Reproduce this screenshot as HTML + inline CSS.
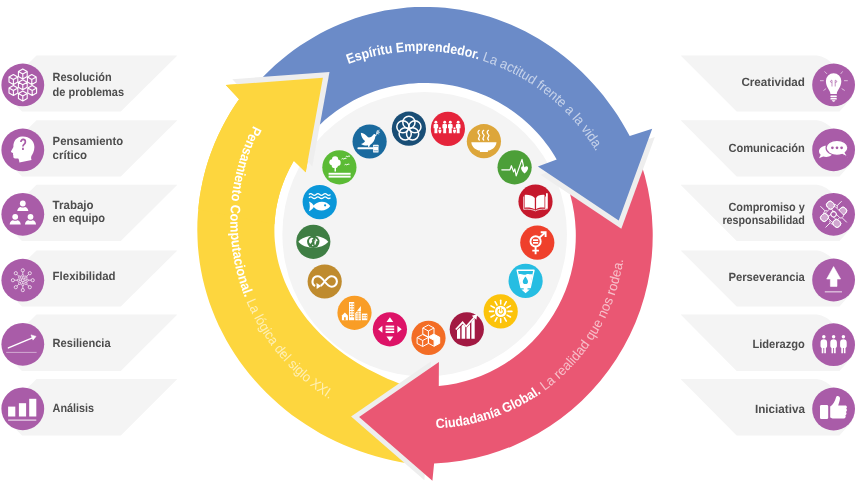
<!DOCTYPE html>
<html lang="es"><head><meta charset="utf-8"><title>Competencias</title>
<style>
html,body{margin:0;padding:0;background:#fff;}
body{width:862px;height:488px;overflow:hidden;font-family:"Liberation Sans",sans-serif;}
svg{display:block;font-family:"Liberation Sans",sans-serif;will-change:transform;}
text{text-rendering:geometricPrecision;}
.lb{font-size:11.9px;font-weight:700;fill:#4d4d4d;}
</style></head><body>
<svg width="862" height="488" viewBox="0 0 862 488">
<circle cx="424.65" cy="234.2" r="142.3" fill="#f4f4f4"/>
<path d="M426.8,465.6 L418.2,464.7 L409.6,463.6 L401.1,462.2 L392.6,460.5 L384.2,458.6 L375.8,456.3 L367.6,453.8 L359.4,451.1 L351.4,448.0 L343.4,444.8 L335.6,441.2 L328.0,437.4 L320.4,433.4 L313.1,429.1 L305.9,424.6 L298.8,419.8 L291.9,414.9 L285.3,409.7 L278.8,404.2 L272.5,398.6 L266.4,392.8 L260.6,386.8 L254.9,380.6 L249.5,374.2 L244.4,367.7 L239.4,361.0 L234.7,354.1 L230.3,347.1 L226.2,339.9 L222.3,332.6 L218.6,325.2 L215.3,317.7 L212.2,310.1 L209.4,302.4 L206.9,294.5 L204.7,286.7 L202.7,278.7 L201.1,270.7 L199.7,262.6 L198.7,254.5 L197.9,246.4 L197.5,238.3 L197.3,230.1 L197.4,222.0 L197.9,213.8 L198.6,205.7 L199.6,197.6 L201.0,189.5 L202.6,181.5 L204.5,173.5 L206.7,165.6 L209.2,157.8 L212.0,150.1 L215.0,142.5 L218.4,134.9 L222.0,127.5 L225.9,120.2 L230.0,113.1 L234.4,106.0 L239.1,99.2 L225.8,85.0 L322.9,77.8 L305.7,172.2 L293.8,160.7 L291.5,165.0 L289.2,169.2 L287.2,173.5 L285.2,177.8 L283.5,182.2 L281.9,186.6 L280.4,191.1 L279.1,195.5 L278.0,200.0 L277.0,204.5 L276.1,209.1 L275.5,213.6 L275.0,218.2 L274.6,222.7 L274.4,227.3 L274.4,231.9 L274.5,236.5 L274.8,241.0 L275.3,245.6 L275.9,250.2 L276.7,254.7 L277.6,259.2 L278.7,263.7 L280.0,268.2 L281.4,272.6 L283.0,277.1 L284.7,281.4 L286.6,285.8 L288.6,290.1 L290.8,294.4 L293.1,298.6 L295.6,302.7 L298.2,306.9 L301.0,310.9 L303.9,314.9 L306.9,318.9 L310.1,322.8 L313.4,326.6 L316.9,330.3 L320.5,334.0 L324.2,337.6 L328.0,341.1 L332.0,344.6 L336.1,347.9 L340.3,351.2 L344.6,354.4 L349.0,357.5 L353.5,360.5 L358.2,363.4 L362.9,366.3 L367.7,369.0 L372.7,371.6 L377.7,374.1 L382.8,376.6 L388.0,378.9 L393.3,381.1 L398.6,383.2 L404.0,385.2 L409.5,387.1 L415.1,388.8 Z" fill="#fdd63e"/>
<polygon points="424.4,480.2 351.1,416.6 430.9,361.4" fill="#eeeeee"/>
<path d="M636.1,150.0 A228.2,228.2 0 0 1 434.1,463.5 L432.4,480.7 L359.1,417.0 L438.9,361.9 L438.8,386.1 A151.3,151.3 0 0 0 564.8,178.8 Z" fill="#ea5773"/>
<polygon points="654.8,136.9 621.3,228.7 540.5,174.8" fill="#eeeeee"/>
<path d="M243.2,99.7 L248.1,93.4 L253.3,87.3 L258.6,81.4 L264.1,75.7 L269.7,70.2 L275.5,64.8 L281.5,59.7 L287.6,54.8 L293.8,50.1 L300.2,45.6 L306.7,41.4 L313.3,37.4 L320.1,33.6 L326.9,30.1 L333.9,26.8 L340.9,23.7 L348.0,20.9 L355.2,18.3 L362.5,16.0 L369.9,14.0 L377.2,12.2 L384.7,10.6 L392.2,9.4 L399.7,8.4 L407.2,7.6 L414.8,7.1 L422.4,6.9 L429.9,7.0 L437.5,7.3 L445.1,7.8 L452.6,8.7 L460.1,9.8 L467.6,11.2 L475.0,12.8 L482.4,14.7 L489.7,16.8 L496.9,19.2 L504.1,21.9 L511.2,24.8 L518.2,27.9 L525.1,31.3 L531.9,34.9 L538.6,38.8 L545.2,42.9 L551.7,47.2 L558.0,51.8 L564.2,56.5 L570.3,61.5 L576.2,66.7 L581.9,72.1 L587.5,77.7 L592.9,83.5 L598.2,89.5 L603.3,95.6 L608.1,101.9 L612.9,108.4 L617.4,115.1 L621.7,121.9 L625.8,128.9 L629.7,136.0 L652.2,128.7 L618.7,220.5 L537.9,166.6 L556.7,159.5 L554.2,155.3 L551.5,151.1 L548.8,147.1 L545.9,143.2 L542.9,139.3 L539.7,135.6 L536.5,132.0 L533.1,128.4 L529.6,125.0 L526.0,121.7 L522.3,118.5 L518.5,115.4 L514.6,112.5 L510.7,109.7 L506.6,107.0 L502.4,104.4 L498.2,102.0 L493.9,99.7 L489.5,97.5 L485.0,95.5 L480.5,93.7 L476.0,91.9 L471.3,90.4 L466.7,88.9 L462.0,87.7 L457.2,86.5 L452.4,85.6 L447.6,84.8 L442.8,84.1 L437.9,83.6 L433.0,83.2 L428.2,83.0 L423.3,83.0 L418.4,83.1 L413.5,83.4 L408.7,83.8 L403.8,84.4 L399.0,85.2 L394.2,86.0 L389.4,87.1 L384.7,88.3 L380.0,89.6 L375.3,91.1 L370.7,92.8 L366.2,94.6 L361.7,96.5 L357.3,98.6 L352.9,100.8 L348.7,103.2 L344.5,105.7 L340.4,108.3 L336.3,111.1 L332.4,114.0 L328.5,117.0 L324.8,120.1 L321.2,123.4 L317.6,126.7 L314.2,130.2 L310.9,133.8 L307.7,137.5 Z" fill="#6b8bc8"/>
<polygon points="232.4,79.2 329.5,72.0 312.3,166.4" fill="#eeeeee"/>
<path d="M198.3,209.2 L198.4,207.2 L198.7,205.3 L198.9,203.3 L199.1,201.4 L199.4,199.4 L199.7,197.5 L199.9,195.5 L200.3,193.6 L200.6,191.7 L200.9,189.7 L201.3,187.8 L201.7,185.9 L202.1,183.9 L202.5,182.0 L202.9,180.1 L203.4,178.2 L203.8,176.3 L204.3,174.3 L204.8,172.4 L205.3,170.5 L205.8,168.6 L206.4,166.7 L206.9,164.9 L207.5,163.0 L208.1,161.1 L208.7,159.2 L209.4,157.3 L210.0,155.5 L210.7,153.6 L211.4,151.8 L212.1,149.9 L212.8,148.1 L213.5,146.2 L214.2,144.4 L215.0,142.6 L215.8,140.7 L216.6,138.9 L217.4,137.1 L218.2,135.3 L219.0,133.5 L219.9,131.7 L220.8,130.0 L221.6,128.2 L222.6,126.4 L223.5,124.6 L224.4,122.9 L225.4,121.1 L226.3,119.4 L227.3,117.7 L228.3,115.9 L229.3,114.2 L230.3,112.5 L231.4,110.8 L232.4,109.1 L233.5,107.4 L234.6,105.8 L235.7,104.1 L236.8,102.4 L237.9,100.8 L239.1,99.2 L225.8,85.0 L322.9,77.8 L305.7,172.2 L293.8,160.7 L293.3,161.7 L292.7,162.8 L292.1,163.8 L291.6,164.8 L291.0,165.8 L290.5,166.8 L290.0,167.8 L289.4,168.8 L288.9,169.9 L288.4,170.9 L287.9,171.9 L287.4,172.9 L287.0,174.0 L286.5,175.0 L286.0,176.0 L285.6,177.1 L285.1,178.1 L284.7,179.2 L284.3,180.2 L283.8,181.3 L283.4,182.3 L283.0,183.4 L282.6,184.4 L282.3,185.5 L281.9,186.5 L281.5,187.6 L281.2,188.6 L280.8,189.7 L280.5,190.8 L280.2,191.8 L279.8,192.9 L279.5,194.0 L279.2,195.0 L278.9,196.1 L278.7,197.2 L278.4,198.3 L278.1,199.3 L277.9,200.4 L277.6,201.5 L277.4,202.6 L277.1,203.6 L276.9,204.7 L276.7,205.8 L276.5,206.9 L276.3,208.0 L276.1,209.1 L276.0,210.2 L275.8,211.2 L275.6,212.3 L275.5,213.4 L275.4,214.5 L275.2,215.6 L275.1,216.7 L275.0,217.8 L274.9,218.9 L274.8,220.0 L274.7,221.1 L274.7,222.1 L274.6,223.2 L274.5,224.3 Z" fill="#fdd63e"/>
<defs>
<path id="tp-blue" d="M348.4,64.1 A204.1,204.1 0 0 1 621.2,219.7" fill="none"/>
<path id="tp-pink" d="M436.2,428.3 A196.1,196.1 0 0 0 622.1,198.2" fill="none"/>
<path id="tp-yel" d="M253.5,125.6 A209.2,209.2 0 0 0 403.3,427.2" fill="none"/>
</defs>
<text font-size="13.7" fill="#fff"><textPath href="#tp-blue"><tspan font-weight="700" textLength="132.5" lengthAdjust="spacingAndGlyphs">Espíritu Emprendedor.</tspan><tspan fill-opacity="0.62" textLength="152.8" lengthAdjust="spacingAndGlyphs"> La actitud frente a la vida.</tspan></textPath></text>
<text font-size="13.7" fill="#fff"><textPath href="#tp-pink"><tspan font-weight="700" textLength="112.5" lengthAdjust="spacingAndGlyphs">Ciudadanía Global.</tspan><tspan fill-opacity="0.62" textLength="160.8" lengthAdjust="spacingAndGlyphs"> La realidad que nos rodea.</tspan></textPath></text>
<text font-size="13.7" fill="#fff"><textPath href="#tp-yel"><tspan font-weight="700" textLength="177.7" lengthAdjust="spacingAndGlyphs">Pensamiento Computacional.</tspan><tspan fill-opacity="0.62" textLength="134" lengthAdjust="spacingAndGlyphs"> La lógica del siglo XXI.</tspan></textPath></text>
<g transform="translate(369.6,141.5)"><circle r="17.1" fill="#1a6a9e"/><g fill="#fff"><path d="M-8.8,-8.8 C-6,-8.6 -3.4,-6.6 -1.6,-4.2 C0.6,-3.8 2.6,-5 3.6,-6.8 C4.4,-7.8 5.8,-7.4 6,-6.4 L7.2,-5.8 L5.8,-5.2 C5.4,-1.6 3.6,1.6 0.4,3.4 L-0.4,5.6 L-1.4,5.6 L-1.6,3.8 C-3.6,4.4 -6.4,3.6 -8.6,2.4 C-6.6,2 -5,1 -4.6,-0.4 C-7,-2.2 -8.6,-5.4 -8.8,-8.8 Z"/><rect x="-12.2" y="5.8" width="16.4" height="1.9" rx="0.9"/><rect x="3.5" y="3.2" width="5.4" height="7.8" rx="0.5"/></g><path d="M4.1,4.9 h4.2 M4.1,9.3 h4.2" stroke="#1a6a9e" stroke-width="0.6"/><path d="M6.4,-6.6 C7.6,-8 8.6,-9.4 9.4,-11.4 M7.4,-8 l1.8,0.4 M7.2,-7.8 l-0.2,-1.8 M8.4,-9.4 l1.6,0.2 M8.2,-9.4 l-0.4,-1.6" fill="none" stroke="#fff" stroke-width="0.7" stroke-linecap="round"/></g>
<g transform="translate(408.9,128.7)"><circle r="17.1" fill="#194e76"/><g fill="none" stroke="#fff" stroke-width="1.5"><circle cx="0.00" cy="-6.30" r="6.1"/><circle cx="5.99" cy="-1.95" r="6.1"/><circle cx="3.70" cy="5.10" r="6.1"/><circle cx="-3.70" cy="5.10" r="6.1"/><circle cx="-5.99" cy="-1.95" r="6.1"/></g></g>
<g transform="translate(447.9,128.9)"><circle r="17.1" fill="#e5243b"/><g fill="#fff"><circle cx="-12" cy="-6.6" r="1.45"/><path d="M-14.3,-3.9000000000000004 Q-14.3,-4.9 -13.3,-4.9 L-10.7,-4.9 Q-9.7,-4.9 -9.7,-3.9000000000000004 L-9.7,-0.7000000000000002 L-10.6,-0.7000000000000002 L-10.5,4.3 L-13.5,4.3 L-13.4,-0.7000000000000002 L-14.3,-0.7000000000000002 Z"/><circle cx="-3.2" cy="-6.6" r="1.45"/><path d="M-5.5,-3.9000000000000004 Q-5.5,-4.9 -4.5,-4.9 L-1.9000000000000004,-4.9 Q-0.9000000000000004,-4.9 -0.9000000000000004,-3.9000000000000004 L-0.9000000000000004,-0.7000000000000002 L-1.8000000000000003,-0.7000000000000002 L-1.7000000000000002,4.3 L-4.7,4.3 L-4.6,-0.7000000000000002 L-5.5,-0.7000000000000002 Z"/><circle cx="2.4" cy="-6.6" r="1.45"/><path d="M0.10000000000000009,-3.9000000000000004 Q0.10000000000000009,-4.9 1.1,-4.9 L3.6999999999999993,-4.9 Q4.699999999999999,-4.9 4.699999999999999,-3.9000000000000004 L4.699999999999999,-0.7000000000000002 L3.7999999999999994,-0.7000000000000002 L3.9,4.3 L0.8999999999999999,4.3 L1.0,-0.7000000000000002 L0.10000000000000009,-0.7000000000000002 Z"/><circle cx="10.3" cy="-6.6" r="1.45"/><path d="M8.0,-3.9000000000000004 Q8.0,-4.9 9.0,-4.9 L11.600000000000001,-4.9 Q12.600000000000001,-4.9 12.600000000000001,-3.9000000000000004 L12.600000000000001,-0.7000000000000002 L11.700000000000001,-0.7000000000000002 L11.8,4.3 L8.8,4.3 L8.9,-0.7000000000000002 L8.0,-0.7000000000000002 Z"/><circle cx="-8.0" cy="-0.6" r="1.05"/><path d="M-9.5,0.8 h3 v2 h-0.5 v1.5 h-2 v-1.5 h-0.5 Z"/><circle cx="6.6" cy="-0.6" r="1.05"/><path d="M5.1,0.8 h3 v2 h-0.5 v1.5 h-2 v-1.5 h-0.5 Z"/></g></g>
<g transform="translate(483.9,141.2)"><circle r="17.1" fill="#dda63a"/><g fill="#fff"><path d="M-12.6,1 L12.6,1 C12.2,6.5 7,9.2 4,9.4 L4,10.8 L-4,10.8 L-4,9.4 C-7,9.2 -12.2,6.5 -12.6,1 Z"/></g><g fill="none" stroke="#fff" stroke-width="1.25" stroke-linecap="round"><path d="M-4.6,-1.2 C-7.3999999999999995,-3.8 -2.1999999999999997,-4.6 -4.8,-6.8 C-6.6,-8.4 -6.0,-9.8 -4.6,-10.9"/><path d="M-0.2,-1.2 C-3.0,-3.8 2.1999999999999997,-4.6 -0.4,-6.8 C-2.2,-8.4 -1.5999999999999999,-9.8 -0.2,-10.9"/><path d="M4.6,-1.2 C1.7999999999999998,-3.8 7.0,-4.6 4.3999999999999995,-6.8 C2.5999999999999996,-8.4 3.1999999999999997,-9.8 4.6,-10.9"/></g></g>
<g transform="translate(514.6,167.3)"><circle r="17.1" fill="#4c9f38"/><path d="M-12.8,2.5 L-4.6,2.5 L-3.2,-1.6 L-1,4.6 L0.2,1.6 L1.6,8.6 L7.4,-7.9 L9.2,0.6" fill="none" stroke="#fff" stroke-width="1.2" stroke-linejoin="round" stroke-linecap="round"/><path d="M10,6 C6.5,3.4 6.4,0.2 8.4,0 C9.4,0 10,0.9 10,0.9 C10,0.9 10.6,0 11.6,0 C13.6,0.2 13.5,3.4 10,6 Z" fill="#fff" transform="translate(10,2.6) scale(1.2) translate(-10,-3)"/></g>
<g transform="translate(535.5,201.5)"><circle r="17.1" fill="#c5192d"/><g fill="#fff"><path d="M-10.8,-6.6 C-7,-7 -3,-5.8 -0.7,-3.6 L-0.7,8 C-3,6.4 -7,5.8 -10.8,6.2 Z"/><path d="M9,-6.6 C5.4,-7 1.6,-5.8 0.6,-3.6 L0.6,8 C1.6,6.4 5.4,5.8 9,6.2 Z"/><path d="M10.5,-8 Q11.4,-9 12.3,-8 L12.3,6.4 L11.4,8.6 L10.5,6.4 Z"/></g><path d="M-11.8,-5 L-11.8,7.8 C-7,7.4 -3,8 -0.1,9.4 C2.6,8 6,7.4 10,7.8 L10,-5" fill="none" stroke="#fff" stroke-width="0.75"/></g>
<g transform="translate(537.3,242.6)"><circle r="17.1" fill="#ef402b"/><g fill="none" stroke="#fff" stroke-width="1.9" stroke-linecap="butt"><circle cx="-1.7" cy="-1.2" r="5.1"/><path d="M-1.7,3.9 L-1.7,11.6 M-5,8 L1.6,8 M2,-4.9 L7.8,-10 M3.4,-10.4 L8.3,-10.4 L8.3,-5.6"/><path d="M-4.3,-2.5 L0.9,-2.5 M-4.3,0.3 L0.9,0.3" stroke-width="1.7"/></g></g>
<g transform="translate(525.6,280.9)"><circle r="17.1" fill="#26bde2"/><path d="M-8.4,-10.6 L8.4,-10.6 L4.6,6.7 L-4.6,6.7 Z" fill="none" stroke="#fff" stroke-width="1.4" stroke-linejoin="round"/><path d="M-7,-6.6 C-4,-8 -2,-5.4 0.4,-6.4 C3,-7.6 5,-6 7,-6.8 L4.4,6.4 L-4.4,6.4 Z" fill="#fff"/><path d="M-0.2,-4.4 C1.4,-2 2.4,-0.8 2.4,0.6 A2.6,2.6 0 0 1 -2.8,0.6 C-2.8,-0.8 -1.8,-2 -0.2,-4.4 Z" fill="#26bde2"/><path d="M-1.9,7 L1.9,7 L1.9,8.6 L4.2,8.6 L0,12.4 L-4.2,8.6 L-1.9,8.6 Z" fill="#fff"/></g>
<g transform="translate(500.7,311.4)"><circle r="17.1" fill="#fcc30b"/><g fill="none" stroke="#fff" stroke-linecap="round" stroke-width="1.55"><path d="M7.30,0.00 L11.20,0.00"/><path d="M6.32,3.65 L9.70,5.60"/><path d="M3.65,6.32 L5.60,9.70"/><path d="M0.00,7.30 L0.00,11.20"/><path d="M-3.65,6.32 L-5.60,9.70"/><path d="M-6.32,3.65 L-9.70,5.60"/><path d="M-7.30,0.00 L-11.20,0.00"/><path d="M-6.32,-3.65 L-9.70,-5.60"/><path d="M-3.65,-6.32 L-5.60,-9.70"/><path d="M-0.00,-7.30 L-0.00,-11.20"/><path d="M3.65,-6.32 L5.60,-9.70"/><path d="M6.32,-3.65 L9.70,-5.60"/></g><circle r="5.7" fill="#fff"/><g fill="none" stroke="#fcc30b" stroke-linecap="round" stroke-width="1.15"><path d="M-1.9,-1.9 A2.7,2.7 0 1 0 1.9,-1.9 M0,-3.6 L0,-0.4"/></g></g>
<g transform="translate(466.8,329.3)"><circle r="17.1" fill="#a21942"/><g fill="#fff"><path d="M-9.8,1 L-6.6,-2 L-6.6,9.4 L-9.8,9.4 Z"/><path d="M-5.2,-3.4 L-3.6,-5 L-1.6,-2.6 L-1.6,9.4 L-5.2,9.4 Z"/><path d="M-0.3,-1.2 L3.2,-5.4 L3.2,9.4 L-0.3,9.4 Z"/><path d="M4.6,-7.2 L7.9,-11 L7.9,9.4 L4.6,9.4 Z"/></g><path d="M-11,0.2 L-4.2,-7 L-0.6,-2.8 L8,-12.6" fill="none" stroke="#fff" stroke-width="1.7" stroke-linejoin="miter"/><path d="M5,-13.6 L10.4,-15 L9.6,-9.6 Z" fill="#fff"/></g>
<g transform="translate(428.5,337.9)"><circle r="17.1" fill="#f36d25"/><path d="M-0.10,-12.90 L5.50,-9.90 L5.50,-3.90 L-0.10,-0.90 L-5.70,-3.90 L-5.70,-9.90 Z M-0.10,-6.90 L-5.70,-9.90 M-0.10,-6.90 L5.50,-9.90 M-0.10,-6.90 L-0.10,-0.90" fill="none" stroke="#fff" stroke-width="1.0" stroke-linejoin="round"/><path d="M-5.80,-3.40 L-0.20,-0.40 L-0.20,5.60 L-5.80,8.60 L-11.40,5.60 L-11.40,-0.40 Z M-5.80,2.60 L-11.40,-0.40 M-5.80,2.60 L-0.20,-0.40 M-5.80,2.60 L-5.80,8.60" fill="none" stroke="#fff" stroke-width="1.0" stroke-linejoin="round"/><path d="M5.60,-3.60 L11.20,-0.60 L5.60,2.40 L0.00,-0.60 Z" fill="#fff"/><path d="M11.20,-0.60 L11.20,5.40 L5.60,8.40 L5.60,2.40 Z" fill="#fff"/><path d="M5.60,-3.60 L11.20,-0.60 L11.20,5.40 L5.60,8.40 L0.00,5.40 L0.00,-0.60 Z M5.60,2.40 L0.00,-0.60 M5.60,2.40 L11.20,-0.60 M5.60,2.40 L5.60,8.40" fill="none" stroke="#fff" stroke-width="1.0" stroke-linejoin="round"/></g>
<g transform="translate(389.9,329.3)"><circle r="17.1" fill="#dd1367"/><g fill="#fff"><rect x="-4.3" y="-3.7" width="8.6" height="1.8"/><rect x="-4.3" y="-0.9" width="8.6" height="1.8"/><rect x="-4.3" y="1.9" width="8.6" height="1.8"/><path d="M0,-12 L3.4,-7.3 L-3.4,-7.3 Z M0,12 L3.4,7.3 L-3.4,7.3 Z M-11.8,0 L-7.5,-3.5 L-7.5,3.5 Z M11.8,0 L7.5,-3.5 L7.5,3.5 Z"/></g></g>
<g transform="translate(354.5,312.8)"><circle r="17.1" fill="#f99d26"/><g fill="#fff"><rect x="-5.5" y="-10.8" width="5.2" height="18.2"/><rect x="-4.6" y="-9.3" width="1" height="1.3" fill="#f99d26"/><rect x="-4.6" y="-6.8" width="1" height="1.3" fill="#f99d26"/><rect x="-4.6" y="-4.3" width="1" height="1.3" fill="#f99d26"/><rect x="-4.6" y="-1.8" width="1" height="1.3" fill="#f99d26"/><rect x="-4.6" y="0.7" width="1" height="1.3" fill="#f99d26"/><rect x="-4.6" y="3.2" width="1" height="1.3" fill="#f99d26"/><rect x="-3.0" y="-9.3" width="1" height="1.3" fill="#f99d26"/><rect x="-3.0" y="-6.8" width="1" height="1.3" fill="#f99d26"/><rect x="-3.0" y="-4.3" width="1" height="1.3" fill="#f99d26"/><rect x="-3.0" y="-1.8" width="1" height="1.3" fill="#f99d26"/><rect x="-3.0" y="0.7" width="1" height="1.3" fill="#f99d26"/><rect x="-3.0" y="3.2" width="1" height="1.3" fill="#f99d26"/><rect x="-1.4" y="-9.3" width="1" height="1.3" fill="#f99d26"/><rect x="-1.4" y="-6.8" width="1" height="1.3" fill="#f99d26"/><rect x="-1.4" y="-4.3" width="1" height="1.3" fill="#f99d26"/><rect x="-1.4" y="-1.8" width="1" height="1.3" fill="#f99d26"/><rect x="-1.4" y="0.7" width="1" height="1.3" fill="#f99d26"/><rect x="-1.4" y="3.2" width="1" height="1.3" fill="#f99d26"/><path d="M0.8,7.4 L0.8,0.4 L6.4,-6.8 L6.4,7.4 Z"/><path d="M1.4,-1.2 L6.4,-1.2" stroke="#f99d26" stroke-width="0.6"/><path d="M1.4,1.0 L6.4,1.0" stroke="#f99d26" stroke-width="0.6"/><path d="M1.4,3.2 L6.4,3.2" stroke="#f99d26" stroke-width="0.6"/><path d="M1.4,5.4 L6.4,5.4" stroke="#f99d26" stroke-width="0.6"/><rect x="3.3" y="-2" width="0.6" height="9.4" fill="#f99d26"/><rect x="7.4" y="0.8" width="5.4" height="6.6"/><rect x="8.2" y="2.2" width="1" height="1.2" fill="#f99d26"/><rect x="8.2" y="4.4" width="1" height="1.2" fill="#f99d26"/><rect x="9.9" y="2.2" width="1" height="1.2" fill="#f99d26"/><rect x="9.9" y="4.4" width="1" height="1.2" fill="#f99d26"/><rect x="11.4" y="2.2" width="1" height="1.2" fill="#f99d26"/><rect x="11.4" y="4.4" width="1" height="1.2" fill="#f99d26"/><path d="M-12.6,7.4 L-12.6,2.8 L-9.6,-0.2 L-6.6,2.8 L-6.6,7.4 Z"/><rect x="-10.4" y="4.4" width="1.6" height="3" fill="#f99d26"/></g></g>
<g transform="translate(324.7,281.5)"><circle r="17.1" fill="#bf8b2e"/><path d="M0,0 C2.6,-3.6 4.2,-5.2 7,-5.2 A5.2,5.2 0 0 1 7,5.2 C4.2,5.2 2.6,3.6 0,0 C-2.6,-3.6 -4.2,-5.2 -7,-5.2 A5.2,5.2 0 0 0 -9.6,4.5" fill="none" stroke="#fff" stroke-width="2.1" stroke-linecap="butt"/><path d="M0,0 C-1.4,2 -2.6,3.4 -4,4.3" fill="none" stroke="#fff" stroke-width="2.1"/><path d="M-8.2,1.6 L-3.4,4.4 L-8,7.4 Z" fill="#fff"/></g>
<g transform="translate(313.3,241.8)"><circle r="17.1" fill="#3f7e44"/><path d="M-15,0 C-9,-7.8 9,-7.8 15,0 C9,7.8 -9,7.8 -15,0 Z" fill="#fff"/><circle cx="0" cy="0" r="6.2" fill="#3f7e44"/><path d="M-3.8,-2.6 C-2.8,-4.2 -0.8,-4.6 0.2,-3.6 C-0.2,-2.6 -1.4,-2.6 -1.6,-1.6 C-0.8,-1 -1,0.2 -1.8,0.6 C-2.2,1.6 -2.8,2.2 -3.4,1.8 C-4.4,0.8 -4.6,-1.2 -3.8,-2.6 Z M2,-3.6 C3.2,-3.2 4.2,-2 4.4,-0.6 C3.6,-1 3,-0.6 2.8,0.2 C3.2,1.2 2.6,2.4 1.6,3.4 C1,2.6 1.4,1.6 1,0.8 C1,-0.2 2,-0.8 2.2,-1.6 C2.4,-2.4 2,-3 2,-3.6 Z M-1.4,3.2 C-0.6,2.8 0.2,3.4 0.2,4.2 C-0.6,4.6 -1.2,4 -1.4,3.2 Z M0.6,-1.6 C1.2,-1.8 1.4,-1 0.8,-0.6 C0.4,-0.8 0.4,-1.2 0.6,-1.6 Z" fill="#fff"/></g>
<g transform="translate(319.7,202.1)"><circle r="17.1" fill="#0a97d9"/><g fill="none" stroke="#fff" stroke-width="1.2"><path d="M-10.8,-7.6 q1.8,-1.6 3.6,0 t3.6,0 t3.6,0 t3.6,0 t3.6,0 t3.6,0"/><path d="M-10.8,-4.4 q1.8,-1.6 3.6,0 t3.6,0 t3.6,0 t3.6,0 t3.6,0 t3.6,0"/></g><path d="M-6.6,4.2 C-3,-1.6 6.6,-2.2 10.6,4 C6.6,10 -3,9.8 -6.6,4.2 Z M-10.8,-0.6 C-8.8,0 -6.4,2 -5.6,4.2 C-6.4,6.4 -8.8,8.6 -10.8,9.2 C-9.6,6.2 -9.6,2.4 -10.8,-0.6 Z" fill="#fff"/><circle cx="5.4" cy="3.2" r="1.1" fill="#0a97d9"/></g>
<g transform="translate(339.4,167.3)"><circle r="17.1" fill="#5bbb35"/><g fill="#fff"><circle cx="-4.3" cy="-8" r="3.1"/><circle cx="-7.1" cy="-5" r="3"/><circle cx="-1.9" cy="-4.6" r="3.2"/><circle cx="-4.6" cy="-2.4" r="3.2"/><rect x="-4.9" y="-1" width="1.5" height="5.2"/><rect x="-10.8" y="5.5" width="22" height="1.9"/><rect x="-10.8" y="8.4" width="22" height="1.9"/></g><g fill="none" stroke="#fff" stroke-width="0.95"><path d="M2.2,-8.2 q1.2,-1.2 2.2,0 q1.2,-1.4 2.6,-0.6 M6.4,-10.6 q1,-1 2,0 q1,-1.2 2.2,-0.4 M5.2,-2.4 q1.2,-1.2 2.2,0 q1.2,-1.4 2.6,-0.6"/></g></g>
<path d="M36.5,55.4 L177.4,55.4 L120.8,111.6 L22,111.6 L8,97.6 L8,83.4 Z" fill="#f4f4f4"/>
<g transform="translate(22.8,84.9)"><circle r="21.4" fill="#a95ca8"/><path d="M-9.40,0.60 L-5.00,3.10 L-5.00,8.10 L-9.40,10.60 L-13.80,8.10 L-13.80,3.10 Z" fill="#a95ca8"/><path d="M-9.40,0.60 L-5.00,3.10 L-5.00,8.10 L-9.40,10.60 L-13.80,8.10 L-13.80,3.10 Z M-9.40,5.60 L-13.80,3.10 M-9.40,5.60 L-5.00,3.10 M-9.40,5.60 L-9.40,10.60" fill="none" stroke="#fff" stroke-width="1.1" stroke-linejoin="round"/><path d="M9.40,0.60 L13.80,3.10 L13.80,8.10 L9.40,10.60 L5.00,8.10 L5.00,3.10 Z" fill="#a95ca8"/><path d="M9.40,0.60 L13.80,3.10 L13.80,8.10 L9.40,10.60 L5.00,8.10 L5.00,3.10 Z M9.40,5.60 L5.00,3.10 M9.40,5.60 L13.80,3.10 M9.40,5.60 L9.40,10.60" fill="none" stroke="#fff" stroke-width="1.1" stroke-linejoin="round"/><path d="M0.00,6.00 L4.40,8.50 L4.40,13.50 L0.00,16.00 L-4.40,13.50 L-4.40,8.50 Z" fill="#a95ca8"/><path d="M0.00,6.00 L4.40,8.50 L4.40,13.50 L0.00,16.00 L-4.40,13.50 L-4.40,8.50 Z M0.00,11.00 L-4.40,8.50 M0.00,11.00 L4.40,8.50 M0.00,11.00 L0.00,16.00" fill="none" stroke="#fff" stroke-width="1.1" stroke-linejoin="round"/><path d="M-9.40,-10.40 L-5.00,-7.90 L-5.00,-2.90 L-9.40,-0.40 L-13.80,-2.90 L-13.80,-7.90 Z" fill="#a95ca8"/><path d="M-9.40,-10.40 L-5.00,-7.90 L-5.00,-2.90 L-9.40,-0.40 L-13.80,-2.90 L-13.80,-7.90 Z M-9.40,-5.40 L-13.80,-7.90 M-9.40,-5.40 L-5.00,-7.90 M-9.40,-5.40 L-9.40,-0.40" fill="none" stroke="#fff" stroke-width="1.1" stroke-linejoin="round"/><path d="M9.00,-10.40 L13.40,-7.90 L13.40,-2.90 L9.00,-0.40 L4.60,-2.90 L4.60,-7.90 Z" fill="#a95ca8"/><path d="M9.00,-10.40 L13.40,-7.90 L13.40,-2.90 L9.00,-0.40 L4.60,-2.90 L4.60,-7.90 Z M9.00,-5.40 L4.60,-7.90 M9.00,-5.40 L13.40,-7.90 M9.00,-5.40 L9.00,-0.40" fill="none" stroke="#fff" stroke-width="1.1" stroke-linejoin="round"/><path d="M0.00,-16.00 L4.40,-13.50 L4.40,-8.50 L0.00,-6.00 L-4.40,-8.50 L-4.40,-13.50 Z" fill="#a95ca8"/><path d="M0.00,-16.00 L4.40,-13.50 L4.40,-8.50 L0.00,-6.00 L-4.40,-8.50 L-4.40,-13.50 Z M0.00,-11.00 L-4.40,-13.50 M0.00,-11.00 L4.40,-13.50 M0.00,-11.00 L0.00,-6.00" fill="none" stroke="#fff" stroke-width="1.1" stroke-linejoin="round"/><path d="M0.00,-5.20 L4.40,-2.70 L4.40,2.30 L0.00,4.80 L-4.40,2.30 L-4.40,-2.70 Z" fill="#a95ca8"/><path d="M0.00,-5.20 L4.40,-2.70 L4.40,2.30 L0.00,4.80 L-4.40,2.30 L-4.40,-2.70 Z M0.00,-0.20 L-4.40,-2.70 M0.00,-0.20 L4.40,-2.70 M0.00,-0.20 L0.00,4.80" fill="none" stroke="#fff" stroke-width="1.1" stroke-linejoin="round"/></g>
<text x="52.6" y="81.4" class="lb" textLength="59" lengthAdjust="spacingAndGlyphs">Resolución</text>
<text x="52.6" y="95.7" class="lb" textLength="71.5" lengthAdjust="spacingAndGlyphs">de problemas</text>
<path d="M36.5,120.3 L177.4,120.3 L120.8,176.6 L22,176.6 L8,162.6 L8,148.3 Z" fill="#f4f4f4"/>
<g transform="translate(22.8,149.9)"><circle r="21.4" fill="#a95ca8"/><path d="M-1,-13.4 C6,-14 11.6,-9.4 11.6,-3 C11.6,1.4 9.6,4.2 8.6,6 C8,7.6 8.4,9 8.8,10.2 L-3.4,12.6 C-3.6,11 -3.8,9.6 -4.6,8.6 C-6,8.8 -8,8.8 -9,8.2 C-9.8,7.4 -9.2,6 -9.6,5.2 C-10.2,4.4 -9.4,3.8 -9.8,3.2 C-10.6,2.8 -11.8,2.4 -11.8,1.6 C-11.4,0.2 -9.8,-1.6 -9.4,-3 C-9.6,-9 -6,-13 -1,-13.4 Z" fill="#fff"/><text x="0.5" y="-0.3" font-size="16.5" font-weight="700" textLength="7.4" lengthAdjust="spacingAndGlyphs" fill="#a95ca8" text-anchor="middle">?</text></g>
<text x="52.6" y="144.8" class="lb" textLength="70.5" lengthAdjust="spacingAndGlyphs">Pensamiento</text>
<text x="52.6" y="158.9" class="lb" textLength="34.5" lengthAdjust="spacingAndGlyphs">crítico</text>
<path d="M36.5,184.8 L177.4,184.8 L120.8,241.1 L22,241.1 L8,227.1 L8,212.8 Z" fill="#f4f4f4"/>
<g transform="translate(22.8,214.3)"><circle r="21.4" fill="#a95ca8"/><g fill="#fff"><circle cx="0" cy="-10.8" r="2.9"/><path d="M-5.6,-3.200000000000001 C-5.2,-6.200000000000001 -3.4,-7.200000000000001 -2.2,-7.4 C-0.8,-6.6000000000000005 0.8,-6.6000000000000005 2.2,-7.4 C3.4,-7.200000000000001 5.2,-6.200000000000001 5.6,-3.200000000000001 Z"/><circle cx="-7.6" cy="2.5" r="2.9"/><path d="M-13.2,10.1 C-12.8,7.1 -11.0,6.1 -9.8,5.9 C-8.4,6.7 -6.8,6.7 -5.3999999999999995,5.9 C-4.199999999999999,6.1 -2.3999999999999995,7.1 -2.0,10.1 Z"/><circle cx="7.7" cy="2.5" r="2.9"/><path d="M2.1000000000000005,10.1 C2.5,7.1 4.300000000000001,6.1 5.5,5.9 C6.9,6.7 8.5,6.7 9.9,5.9 C11.1,6.1 12.9,7.1 13.3,10.1 Z"/></g></g>
<text x="52.6" y="208.5" class="lb" textLength="41" lengthAdjust="spacingAndGlyphs">Trabajo</text>
<text x="52.6" y="222.4" class="lb" textLength="52.5" lengthAdjust="spacingAndGlyphs">en equipo</text>
<path d="M36.5,250.4 L177.4,250.4 L120.8,306.6 L22,306.6 L8,292.6 L8,278.4 Z" fill="#f4f4f4"/>
<g transform="translate(22.8,280.2)"><circle r="21.4" fill="#a95ca8"/><g fill="none" stroke="#fff" stroke-width="0.75" stroke-opacity="0.92"><circle r="1.5"/><path d="M1.60,0.00 L3.20,0.00 M5.60,0.00 L8.30,0.00"/><circle cx="4.40" cy="0.00" r="1.15"/><circle cx="9.90" cy="0.00" r="1.6"/><path d="M1.13,1.13 L2.26,2.26 M3.96,3.96 L5.87,5.87"/><circle cx="3.11" cy="3.11" r="1.15"/><circle cx="7.00" cy="7.00" r="1.6"/><path d="M0.00,1.60 L0.00,3.20 M0.00,5.60 L0.00,8.30"/><circle cx="0.00" cy="4.40" r="1.15"/><circle cx="0.00" cy="9.90" r="1.6"/><path d="M-1.13,1.13 L-2.26,2.26 M-3.96,3.96 L-5.87,5.87"/><circle cx="-3.11" cy="3.11" r="1.15"/><circle cx="-7.00" cy="7.00" r="1.6"/><path d="M-1.60,0.00 L-3.20,0.00 M-5.60,0.00 L-8.30,0.00"/><circle cx="-4.40" cy="0.00" r="1.15"/><circle cx="-9.90" cy="0.00" r="1.6"/><path d="M-1.13,-1.13 L-2.26,-2.26 M-3.96,-3.96 L-5.87,-5.87"/><circle cx="-3.11" cy="-3.11" r="1.15"/><circle cx="-7.00" cy="-7.00" r="1.6"/><path d="M-0.00,-1.60 L-0.00,-3.20 M-0.00,-5.60 L-0.00,-8.30"/><circle cx="-0.00" cy="-4.40" r="1.15"/><circle cx="-0.00" cy="-9.90" r="1.6"/><path d="M1.13,-1.13 L2.26,-2.26 M3.96,-3.96 L5.87,-5.87"/><circle cx="3.11" cy="-3.11" r="1.15"/><circle cx="7.00" cy="-7.00" r="1.6"/></g></g>
<text x="52.6" y="279.5" class="lb" textLength="63" lengthAdjust="spacingAndGlyphs">Flexibilidad</text>
<path d="M36.5,314.5 L177.4,314.5 L120.8,371.0 L22,371.0 L8,357.0 L8,342.5 Z" fill="#f4f4f4"/>
<g transform="translate(22.8,344.3)"><circle r="21.4" fill="#a95ca8"/><path d="M-14.4,3.6 L9.6,-6.4" stroke="#fff" stroke-width="1.5" stroke-linecap="round"/><path d="M13.2,-7.9 L8.2,-9.4 L10.2,-4.2 Z" fill="#fff" stroke="#fff" stroke-width="0.6" stroke-linejoin="round"/><path d="M-16.6,8.1 L13.8,8.1" stroke="#fff" stroke-width="0.8" stroke-opacity="0.6"/></g>
<text x="52.6" y="347.2" class="lb" textLength="58" lengthAdjust="spacingAndGlyphs">Resiliencia</text>
<path d="M36.5,379.0 L177.4,379.0 L120.8,435.6 L22,435.6 L8,421.6 L8,407.0 Z" fill="#f4f4f4"/>
<g transform="translate(22.8,408.8)"><circle r="21.4" fill="#a95ca8"/><g fill="#fff"><rect x="-14.7" y="-2.2" width="7.2" height="9.9"/><rect x="-3.9" y="-5.6" width="7.2" height="13.3"/><rect x="6.4" y="-10" width="7.1" height="17.7"/><rect x="-14.7" y="10.5" width="28.2" height="1.7" fill-opacity="0.55"/></g></g>
<text x="52.6" y="411.8" class="lb" textLength="41.5" lengthAdjust="spacingAndGlyphs">Análisis</text>
<path d="M680.6,55.4 L817,55.4 Q826,56.4 834,65.4 L852,83.4 L852,97.6 L839.5,111.6 L736.6,111.6 Z" fill="#f4f4f4"/>
<g transform="translate(833.6,84.9)"><circle r="21.4" fill="#a95ca8"/><g stroke="#fff" stroke-width="0.8" stroke-opacity="0.75" stroke-linecap="round"><path d="M-8.8,-13.2 L-6.9,-11.3"/><path d="M8.8,-13.2 L7.3,-11.3"/><path d="M-13.2,-4.2 L-10.3,-4.2"/><path d="M10.8,-4.2 L13.8,-4.2"/><path d="M-9.8,5.4 L-7.8,3.9"/><path d="M8.4,3.9 L10.8,5.4"/></g><path d="M-3.2,9 C-3.2,5.4 -7.7,2.6 -7.7,-3.9 A7.7,7.7 0 0 1 7.7,-3.9 C7.7,2.6 3.2,5.4 3.2,9 Z" fill="#fff"/><g fill="#fff"><rect x="-3.2" y="10.6" width="6.4" height="1.7" rx="0.4"/><rect x="-3.2" y="13.2" width="6.4" height="1.5" rx="0.4"/><path d="M-2,15.4 L2,15.4 L0.6,16.8 L-0.6,16.8 Z"/></g><path d="M-1.6,1.6 L-1.6,-4.6 C-3.6,-4.8 -3.6,-2 -1.8,-2.4 M1.6,1.6 L1.6,-4.6 C3.6,-4.8 3.6,-2 1.8,-2.4" fill="none" stroke="#a95ca8" stroke-width="0.7"/></g>
<text x="741.4" y="86.2" class="lb" textLength="63.5" lengthAdjust="spacingAndGlyphs">Creatividad</text>
<path d="M680.6,120.3 L817,120.3 Q826,121.3 834,130.3 L852,148.3 L852,162.6 L839.5,176.6 L736.6,176.6 Z" fill="#f4f4f4"/>
<g transform="translate(833.6,149.8)"><circle r="21.4" fill="#a95ca8"/><path d="M-7.4,-4.1 C-3.4,-4.1 -0.2,-1.6 -0.2,1.5 C-0.2,4.6 -3.4,7.1 -7.4,7.1 C-8.5,7.1 -9.5,6.9 -10.4,6.6 L-14.6,8.4 L-12.9,5 C-14,4.1 -14.6,2.9 -14.6,1.5 C-14.6,-1.6 -11.4,-4.1 -7.4,-4.1 Z" fill="#fff"/><path d="M3.4,-9.5 C9.4,-9.5 14.3,-6.2 14.3,-2 C14.3,-0.1 13.3,1.6 11.6,2.9 L14.6,7.6 L8.4,4.7 C6.9,5.2 5.2,5.5 3.4,5.5 C-2.6,5.5 -7.5,2.2 -7.5,-2 C-7.5,-6.2 -2.6,-9.5 3.4,-9.5 Z" fill="#fff" stroke="#a95ca8" stroke-width="1.2"/><g fill="#a95ca8"><circle cx="-1.2" cy="-2" r="1.35"/><circle cx="3.4" cy="-2" r="1.35"/><circle cx="8" cy="-2" r="1.35"/></g></g>
<text x="728.4" y="151.6" class="lb" textLength="76.5" lengthAdjust="spacingAndGlyphs">Comunicación</text>
<path d="M680.6,184.8 L817,184.8 Q826,185.8 834,194.8 L852,212.8 L852,227.1 L839.5,241.1 L736.6,241.1 Z" fill="#f4f4f4"/>
<g transform="translate(833.6,214.3)"><circle r="21.4" fill="#a95ca8"/><g transform="rotate(45)" fill="none" stroke="#fff" stroke-width="0.85" stroke-opacity="0.95"><g transform="rotate(0)"><path d="M3.6,8 L3.6,15" stroke-width="0.9"/><rect x="2" y="-6" width="4.6" height="14.4" rx="1.8" fill="#a95ca8"/><rect x="0.7" y="-12.6" width="7" height="7.8" rx="3" fill="#a95ca8"/><rect x="0.7" y="-12.6" width="7" height="7.8" rx="3" fill="#fff" fill-opacity="0.45"/></g><g transform="rotate(90)"><path d="M3.6,8 L3.6,15" stroke-width="0.9"/><rect x="2" y="-6" width="4.6" height="14.4" rx="1.8" fill="#a95ca8"/><rect x="0.7" y="-12.6" width="7" height="7.8" rx="3" fill="#a95ca8"/><rect x="0.7" y="-12.6" width="7" height="7.8" rx="3" fill="#fff" fill-opacity="0.45"/></g><g transform="rotate(180)"><path d="M3.6,8 L3.6,15" stroke-width="0.9"/><rect x="2" y="-6" width="4.6" height="14.4" rx="1.8" fill="#a95ca8"/><rect x="0.7" y="-12.6" width="7" height="7.8" rx="3" fill="#a95ca8"/><rect x="0.7" y="-12.6" width="7" height="7.8" rx="3" fill="#fff" fill-opacity="0.45"/></g><g transform="rotate(270)"><path d="M3.6,8 L3.6,15" stroke-width="0.9"/><rect x="2" y="-6" width="4.6" height="14.4" rx="1.8" fill="#a95ca8"/><rect x="0.7" y="-12.6" width="7" height="7.8" rx="3" fill="#a95ca8"/><rect x="0.7" y="-12.6" width="7" height="7.8" rx="3" fill="#fff" fill-opacity="0.45"/></g><circle r="2.7" stroke-width="1.1" fill="#a95ca8"/></g></g>
<text x="728.4" y="210.5" class="lb" textLength="76.5" lengthAdjust="spacingAndGlyphs">Compromiso y</text>
<text x="722.4" y="224.2" class="lb" textLength="82.5" lengthAdjust="spacingAndGlyphs">responsabilidad</text>
<path d="M680.6,250.4 L817,250.4 Q826,251.4 834,260.4 L852,278.4 L852,292.6 L839.5,306.6 L736.6,306.6 Z" fill="#f4f4f4"/>
<g transform="translate(833.6,280.0)"><circle r="21.4" fill="#a95ca8"/><path d="M0,-13.4 L7,-1 L3.4,-1 L3.4,6.4 L-3.2,6.4 L-3.2,-1 L-6.9,-1 Z" fill="#fff" stroke="#fff" stroke-width="0.6" stroke-linejoin="round"/><rect x="-8.8" y="11.1" width="17.2" height="1.4" fill="#fff" fill-opacity="0.6"/></g>
<text x="728.4" y="280.8" class="lb" textLength="76.5" lengthAdjust="spacingAndGlyphs">Perseverancia</text>
<path d="M680.6,314.5 L817,314.5 Q826,315.5 834,324.5 L852,342.5 L852,357.0 L839.5,371.0 L736.6,371.0 Z" fill="#f4f4f4"/>
<g transform="translate(833.6,344.7)"><circle r="21.4" fill="#a95ca8"/><g fill="#fff"><circle cx="-9.8" cy="-7.9" r="1.75"/><path d="M-13.100000000000001,-2.2 C-13.100000000000001,-4.4 -11.8,-5.4 -9.8,-5.4 C-7.800000000000001,-5.4 -6.500000000000001,-4.4 -6.500000000000001,-2.2 L-6.500000000000001,1.4 C-6.500000000000001,2.6 -7.200000000000001,3.2 -7.700000000000001,3.2 L-7.700000000000001,8.6 L-9.350000000000001,8.6 L-9.350000000000001,3.4 L-10.25,3.4 L-10.25,8.6 L-11.9,8.6 L-11.9,3.2 C-12.4,3.2 -13.100000000000001,2.6 -13.100000000000001,1.4 Z"/><circle cx="0" cy="-7.9" r="1.75"/><path d="M-3.3,-2.2 C-3.3,-4.4 -2,-5.4 0,-5.4 C2,-5.4 3.3,-4.4 3.3,-2.2 L3.3,1.4 C3.3,2.6 2.6,3.2 2.1,3.2 L2.1,8.6 L0.45,8.6 L0.45,3.4 L-0.45,3.4 L-0.45,8.6 L-2.1,8.6 L-2.1,3.2 C-2.6,3.2 -3.3,2.6 -3.3,1.4 Z"/><circle cx="9.8" cy="-7.9" r="1.75"/><path d="M6.500000000000001,-2.2 C6.500000000000001,-4.4 7.800000000000001,-5.4 9.8,-5.4 C11.8,-5.4 13.100000000000001,-4.4 13.100000000000001,-2.2 L13.100000000000001,1.4 C13.100000000000001,2.6 12.4,3.2 11.9,3.2 L11.9,8.6 L10.25,8.6 L10.25,3.4 L9.350000000000001,3.4 L9.350000000000001,8.6 L7.700000000000001,8.6 L7.700000000000001,3.2 C7.200000000000001,3.2 6.500000000000001,2.6 6.500000000000001,1.4 Z"/></g></g>
<text x="752.4" y="348.0" class="lb" textLength="52.5" lengthAdjust="spacingAndGlyphs">Liderazgo</text>
<path d="M680.6,379.0 L817,379.0 Q826,380.0 834,389.0 L852,407.0 L852,421.6 L839.5,435.6 L736.6,435.6 Z" fill="#f4f4f4"/>
<g transform="translate(833.6,409.0)"><circle r="21.4" fill="#a95ca8"/><g fill="#fff"><rect x="-13.6" y="-3.9" width="8.2" height="14" rx="1.4"/><path d="M-3.4,-2.6 C-0.6,-4.4 1.4,-7.6 2.4,-11.6 C3,-14 6.6,-13.4 6.4,-10.4 C6.2,-8 5.2,-5.6 4.6,-3.6 L11.6,-3.6 C13.6,-3.6 13.8,-1 12.4,-0.4 C13.8,0.2 13.6,2.6 12.2,3 C13.4,3.8 13,5.8 11.8,6.2 C12.6,7.2 12,9.6 10,9.6 L0,9.6 C-1.4,9.6 -2.4,9 -3.4,8.6 Z"/></g></g>
<text x="754.9" y="413.1" class="lb" textLength="50" lengthAdjust="spacingAndGlyphs">Iniciativa</text>
</svg>
</body></html>
